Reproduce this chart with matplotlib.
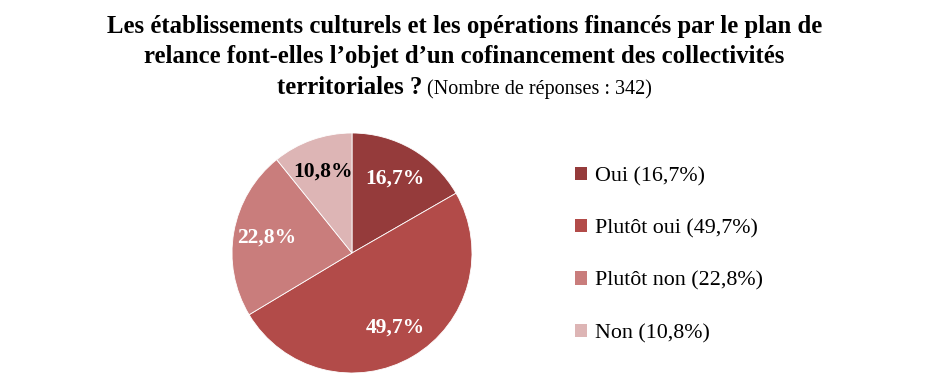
import matplotlib
matplotlib.use("Agg")
import matplotlib.pyplot as plt
from matplotlib.patches import Patch

categories = ["Oui", "Plutôt oui", "Plutôt non", "Non"]
values = [16.7, 49.7, 22.8, 10.8]
colors = ["#953B3B", "#B24B49", "#C97D7C", "#DDB5B5"]
label_colors = ["white", "white", "white", "black"]
title_lines = ["Les établissements culturels et les opérations financés par le plan de",
               "relance font-elles l’objet d’un cofinancement des collectivités"]
title_bold_end = "territoriales ?"
title_note = " (Nombre de réponses : 342)"

FONT = "Liberation Serif"
W, H = 929, 379
fig = plt.figure(figsize=(W / 100, H / 100), dpi=100)

def fmt(v):
    return f"{v:.1f}".replace(".", ",") + "%"

cx, cy, r = 352, H - 253, 120
ax = fig.add_axes([(cx - r) / W, (cy - r) / H, 2 * r / W, 2 * r / H])
wedges, texts, autotexts = ax.pie(
    values, colors=colors, startangle=90, counterclock=False,
    autopct=lambda p: "", pctdistance=0.72,
    wedgeprops=dict(edgecolor="white", linewidth=0.6))
for t, v, c in zip(autotexts, values, label_colors):
    t.set_text(fmt(v))
    t.set_color(c)
    t.set_fontfamily(FONT)
    t.set_fontweight("bold")
    t.set_fontsize(15.5)
ax.set_xlim(-1, 1)
ax.set_ylim(-1, 1)
ax.set_aspect("equal")

# Title
TS = 17.8
fig.text(0.5, 1 - 27 / H, title_lines[0], ha="center", va="center",
         fontfamily=FONT, fontweight="bold", fontsize=TS)
fig.text(0.5, 1 - 57 / H, title_lines[1], ha="center", va="center",
         fontfamily=FONT, fontweight="bold", fontsize=TS)
renderer = fig.canvas.get_renderer()
tb = fig.text(0, 0.5, title_bold_end, ha="left", va="baseline",
              fontfamily=FONT, fontweight="bold", fontsize=TS)
tn = fig.text(0, 0.5, title_note, ha="left", va="baseline",
              fontfamily=FONT, fontsize=14.5)
wb = tb.get_window_extent(renderer).width
wn = tn.get_window_extent(renderer).width
x0 = (W - wb - wn) / 2
base = 1 - 94 / H
tb.set_position((x0 / W, base))
tn.set_position(((x0 + wb) / W, base))

handles = [Patch(facecolor=c, edgecolor="none") for c in colors]
labels = [f"{c} ({fmt(v)})" for c, v in zip(categories, values)]
fig.legend(handles, labels, loc="upper left", bbox_to_anchor=(566 / W, 1 - 158 / H),
           frameon=False, prop=dict(family=FONT, size=15.8),
           handlelength=0.55, handleheight=0.55, handletextpad=0.35,
           labelspacing=1.5, borderaxespad=0)

fig.savefig("out.png", dpi=100, facecolor="white")
